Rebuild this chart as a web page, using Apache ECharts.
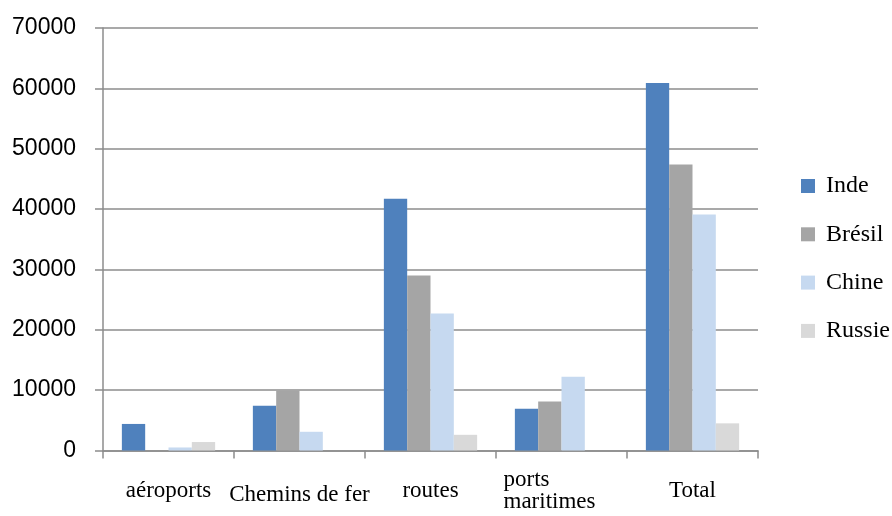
<!DOCTYPE html>
<html>
<head>
<meta charset="utf-8">
<script src="https://cdn.jsdelivr.net/npm/echarts@6/dist/echarts.min.js"></script>
<style>html,body{margin:0;padding:0;background:#fff}#c{width:892px;height:516px}</style>
</head>
<body>
<div id="c"></div>
<script>
const categories = ['aéroports', 'Chemins de fer', 'routes', 'ports\nmaritimes', 'Total'];
const seriesNames = ['Inde', 'Brésil', 'Chine', 'Russie'];
const inde   = [4400, 7400, 41700, 6900, 60900];
const bresil = [0, 9900, 29000, 8100, 47400];
const chine  = [500, 3100, 22700, 12200, 39100];
const russie = [1400, 0, 2600, 0, 4500];
const yTicks = [0, 10000, 20000, 30000, 40000, 50000, 60000, 70000];
const colors = ['#4f81bd', '#a5a5a5', '#c6d9f0', '#d9d9d9'];

const values = [inde, bresil, chine, russie];
const chart = echarts.init(document.getElementById('c'));
const serif = { fontFamily: 'Liberation Serif', fontSize: 23, color: '#000' };
chart.setOption({
  animation: false,
  color: colors,
  grid: { left: 103, right: 134, top: 28, bottom: 65.5, containLabel: false, outerBoundsMode: 'none' },
  legend: {
    orient: 'vertical',
    left: 801,
    top: 174,
    padding: 0,
    itemWidth: 14,
    itemHeight: 14,
    itemGap: 24.3,
    icon: 'rect',
    textStyle: { fontFamily: 'Liberation Serif', fontSize: 24, color: '#000', padding: [0, 0, 0, 6] },
    data: seriesNames
  },
  xAxis: {
    type: 'category',
    data: categories,
    axisLine: { lineStyle: { color: '#8c8c8c', width: 1.5 } },
    axisTick: { show: true, length: 8, lineStyle: { color: '#8c8c8c', width: 1.5 } },
    axisLabel: {
      fontFamily: 'Liberation Serif', fontSize: 23, color: '#000', margin: 40, verticalAlign: 'middle', interval: 0,
      rich: {
        a: Object.assign({ width: 116, align: 'left', lineHeight: 22 }, serif),
        c: Object.assign({ padding: [9, 0, 0, 0] }, serif)
      },
      formatter: function (v) {
        if (v === 'ports\nmaritimes') return '{a|ports}\n{a|maritimes}';
        if (v === 'Chemins de fer') return '{c|' + v + '}';
        return v;
      }
    }
  },
  yAxis: {
    type: 'value',
    min: 0,
    max: 70000,
    interval: 10000,
    axisLine: { show: true, lineStyle: { color: '#8c8c8c', width: 1.5 } },
    axisTick: { show: true, length: 8, lineStyle: { color: '#8c8c8c', width: 1.5 } },
    splitLine: { lineStyle: { color: '#8c8c8c', width: 1.5 } },
    axisLabel: {
      fontFamily: 'Liberation Sans', fontSize: 23, color: '#000', margin: 27,
      formatter: function (v) { return yTicks.indexOf(v) >= 0 ? String(v) : ''; }
    }
  },
  series: seriesNames.map(function (n, i) {
    return { name: n, type: 'bar', data: values[i], barGap: '0%', barCategoryGap: '28.8%', itemStyle: { color: colors[i] } };
  })
});
</script>
</body>
</html>
